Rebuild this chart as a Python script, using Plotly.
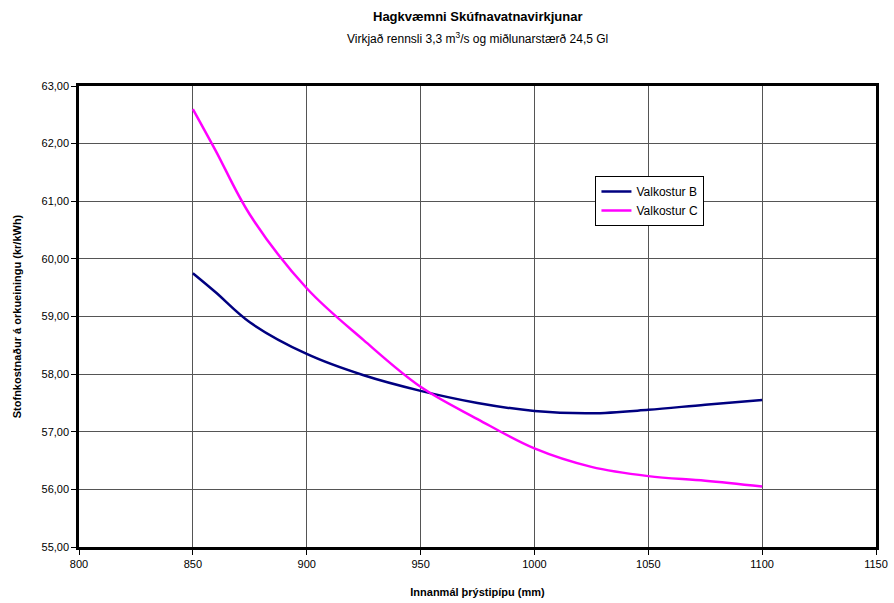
import plotly.graph_objects as go

pipe_diameter = [850, 860, 875, 900, 925, 950, 975, 1000, 1025, 1050, 1075, 1100]
valkostur_b = [59.75, 59.42, 58.90, 58.35, 57.98, 57.71, 57.50, 57.36, 57.32, 57.38, 57.47, 57.55]
valkostur_c = [62.60, 61.88, 60.77, 59.49, 58.59, 57.78, 57.22, 56.71, 56.39, 56.23, 56.15, 56.05]

title = "<b>Hagkvæmni Skúfnavatnavirkjunar</b>"
subtitle = "Virkjað rennsli 3,3 m<sup>3</sup>/s og miðlunarstærð 24,5 Gl"
x_title = "Innanmál þrýstipípu (mm)"
y_title = "Stofnkostnaður á orkueiningu (kr/kWh)"

fig = go.Figure()
fig.add_trace(go.Scatter(x=pipe_diameter, y=valkostur_b, mode="lines", name="Valkostur B",
                         line=dict(color="#000080", width=2.5, shape="spline", smoothing=1)))
fig.add_trace(go.Scatter(x=pipe_diameter, y=valkostur_c, mode="lines", name="Valkostur C",
                         line=dict(color="#FF00FF", width=2.5, shape="spline", smoothing=1)))

font = "Liberation Sans, Arial, sans-serif"
fig.update_layout(
    width=894, height=603,
    margin=dict(l=79, r=18, t=86, b=56),
    paper_bgcolor="white", plot_bgcolor="white",
    font=dict(family=font, size=11, color="black"),
    separators=", ",
    showlegend=True,
    legend=dict(x=0.648, y=0.805, xanchor="left", yanchor="top",
                bordercolor="black", borderwidth=1, bgcolor="white",
                font=dict(size=12), tracegroupgap=0, itemwidth=30),
    xaxis=dict(range=[800, 1150], dtick=50, tickformat="d", automargin=False,
               showgrid=True, gridcolor="#555555", gridwidth=1,
               showline=True, linecolor="black", linewidth=2.5, mirror=True,
               ticks="outside", ticklen=5, tickcolor="black",
               zeroline=False, title=dict(text="<b>" + x_title + "</b>", standoff=20,
                                          font=dict(size=11))),
    yaxis=dict(range=[55, 63], dtick=1, tickformat=".2f", automargin=False,
               showgrid=True, gridcolor="#555555", gridwidth=1,
               showline=True, linecolor="black", linewidth=2.5, mirror=True,
               ticks="outside", ticklen=5, tickcolor="black",
               zeroline=False, title=dict(text="<b>" + y_title + "</b>", standoff=18,
                                          font=dict(size=11))),
)
fig.add_annotation(text=title, xref="paper", yref="paper", x=0.5, y=1, yshift=70,
                   showarrow=False, xanchor="center", yanchor="middle",
                   font=dict(size=13))
fig.add_annotation(text=subtitle, xref="paper", yref="paper", x=0.5, y=1, yshift=48,
                   showarrow=False, xanchor="center", yanchor="middle",
                   font=dict(size=12))

fig.write_html("out.html")
